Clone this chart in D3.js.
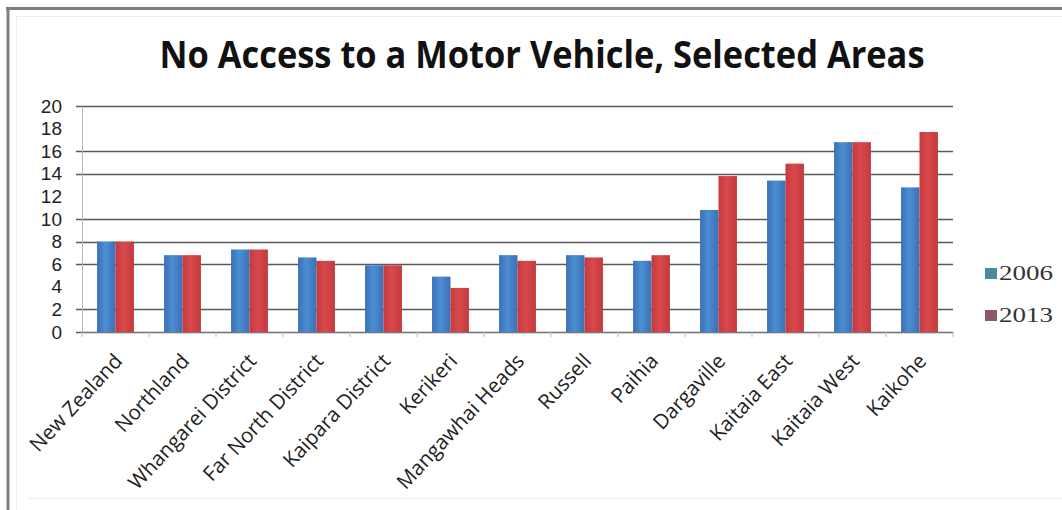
<!DOCTYPE html>
<html>
<head>
<meta charset="utf-8">
<script src="https://cdn.jsdelivr.net/npm/d3@7"></script>
<style>
  html, body { margin: 0; padding: 0; background: #fff; }
  svg { display: block; }
</style>
</head>
<body>
<svg id="chart" width="1062" height="510"></svg>
<script>
// Share of households with no access to a motor vehicle (%)
const categories = ["New Zealand", "Northland", "Whangarei District", "Far North District",
  "Kaipara District", "Kerikeri", "Mangawhai Heads", "Russell", "Paihia",
  "Dargaville", "Kaitaia East", "Kaitaia West", "Kaikohe"];
const seriesNames = ["2006", "2013"];
const values2006 = [8.0, 6.8, 7.3, 6.6, 5.9, 4.9, 6.8, 6.8, 6.3, 10.8, 13.4, 16.8, 12.8];
const values2013 = [8.0, 6.8, 7.3, 6.3, 5.9, 3.9, 6.3, 6.6, 6.8, 13.8, 14.9, 16.8, 17.7];
const yTicks = [0, 2, 4, 6, 8, 10, 12, 14, 16, 18, 20];
const gridValues = [0, 2, 6, 8, 10, 14, 16, 20];
const titleText = "No Access to a Motor Vehicle, Selected Areas";

const svg = d3.select("#chart");
const defs = svg.append("defs");

// Soft horizontal shading on the bars
function barGradient(id, edge, mid) {
  const g = defs.append("linearGradient").attr("id", id)
    .attr("x1", "0").attr("x2", "1").attr("y1", "0").attr("y2", "0");
  g.append("stop").attr("offset", "0%").attr("stop-color", edge);
  g.append("stop").attr("offset", "45%").attr("stop-color", mid);
  g.append("stop").attr("offset", "100%").attr("stop-color", edge);
}
barGradient("g2006", "#3b6fb6", "#4b8fd2");
barGradient("g2013", "#c33a3c", "#d9484c");
const fills = { "2006": "url(#g2006)", "2013": "url(#g2013)" };
const swatch = { "2006": "#4a8a9c", "2013": "#8c5a62" };

// Frame
svg.append("line").attr("x1", 6).attr("x2", 1062).attr("y1", 8.5).attr("y2", 8.5)
  .attr("stroke", "#808080").attr("stroke-width", 3);
svg.append("line").attr("x1", 8).attr("x2", 8).attr("y1", 7).attr("y2", 510)
  .attr("stroke", "#808080").attr("stroke-width", 3);
svg.append("line").attr("x1", 16).attr("x2", 1062).attr("y1", 16.5).attr("y2", 16.5)
  .attr("stroke", "#ececec").attr("stroke-width", 1);
svg.append("line").attr("x1", 16.5).attr("x2", 16.5).attr("y1", 16).attr("y2", 510)
  .attr("stroke", "#ececec").attr("stroke-width", 1);
svg.append("line").attr("x1", 28).attr("x2", 1062).attr("y1", 498.5).attr("y2", 498.5)
  .attr("stroke", "#eeeeee").attr("stroke-width", 1);

// Title
svg.append("text")
  .attr("x", 542).attr("y", 68)
  .attr("text-anchor", "middle")
  .attr("font-family", "'Open Sans', 'Liberation Sans', sans-serif")
  .attr("font-weight", "bold")
  .attr("font-size", 37)
  .attr("fill", "#111")
  .attr("textLength", 765)
  .attr("lengthAdjust", "spacingAndGlyphs")
  .text(titleText);

const plot = { left: 82, right: 953, top: 106, bottom: 332 };

const x = d3.scaleBand().domain(categories)
  .range([plot.left, plot.right])
  .paddingInner(0.45).paddingOuter(0.225);
const xs = d3.scaleBand().domain(seriesNames).range([0, x.bandwidth()]);
const y = d3.scaleLinear().domain([0, 20]).range([plot.bottom, plot.top]);

// Gridlines
svg.append("g").selectAll("line").data(gridValues).join("line")
  .attr("x1", plot.left - 6).attr("x2", plot.right)
  .attr("y1", d => Math.round(y(d)) + 0.5).attr("y2", d => Math.round(y(d)) + 0.5)
  .attr("stroke", "#5a5a5a").attr("stroke-width", 1.6);

// Bars
const rows = categories.map((c, i) => ({ cat: c, vals: [
  { s: "2006", v: values2006[i] }, { s: "2013", v: values2013[i] }] }));
svg.append("g").selectAll("g").data(rows).join("g")
  .attr("transform", d => `translate(${x(d.cat)},0)`)
  .selectAll("rect").data(d => d.vals).join("rect")
  .attr("x", d => xs(d.s)).attr("width", xs.bandwidth())
  .attr("y", d => y(d.v)).attr("height", d => y(0) - y(d.v))
  .attr("fill", d => fills[d.s]);

// Y axis
const yAxis = svg.append("g").attr("transform", `translate(${plot.left},0)`)
  .call(d3.axisLeft(y).tickValues(yTicks).tickSize(0).tickPadding(20));
yAxis.select(".domain").attr("stroke", "#b8b8b8");
yAxis.selectAll("text")
  .attr("font-family", "'Liberation Sans Narrow', 'Liberation Sans', sans-serif")
  .attr("font-size", 19).attr("fill", "#222");

// X axis
const xAxis = svg.append("g").attr("transform", `translate(0,${plot.bottom})`)
  .call(d3.axisBottom(x).tickSize(0).tickPadding(0));
xAxis.select(".domain").attr("stroke", "#777").attr("stroke-width", 1.2);
xAxis.selectAll("text")
  .attr("font-family", "'Open Sans', 'Liberation Sans', sans-serif")
  .attr("font-size", 20.5).attr("fill", "#222")
  .attr("text-anchor", "end")
  .attr("dy", 0)
  .attr("transform", "translate(8,30) rotate(-47)");

// Category separators below the axis
const step = x.step();
const bounds = d3.range(categories.length + 1).map(i => plot.left + i * step);
svg.append("g").selectAll("line").data(bounds).join("line")
  .attr("x1", d => d).attr("x2", d => d)
  .attr("y1", plot.bottom).attr("y2", plot.bottom + 5)
  .attr("stroke", "#bbb");

// Legend
const legend = svg.append("g").selectAll("g").data(seriesNames).join("g")
  .attr("transform", (d, i) => `translate(985,${268 + i * 42})`);
legend.append("rect").attr("width", 12).attr("height", 11)
  .attr("fill", d => swatch[d]);
legend.append("text").attr("x", 14).attr("y", 12)
  .attr("font-family", "'Liberation Serif', serif")
  .attr("font-size", 20).attr("fill", "#333")
  .attr("textLength", 54).attr("lengthAdjust", "spacingAndGlyphs")
  .text(d => d);
</script>
</body>
</html>
